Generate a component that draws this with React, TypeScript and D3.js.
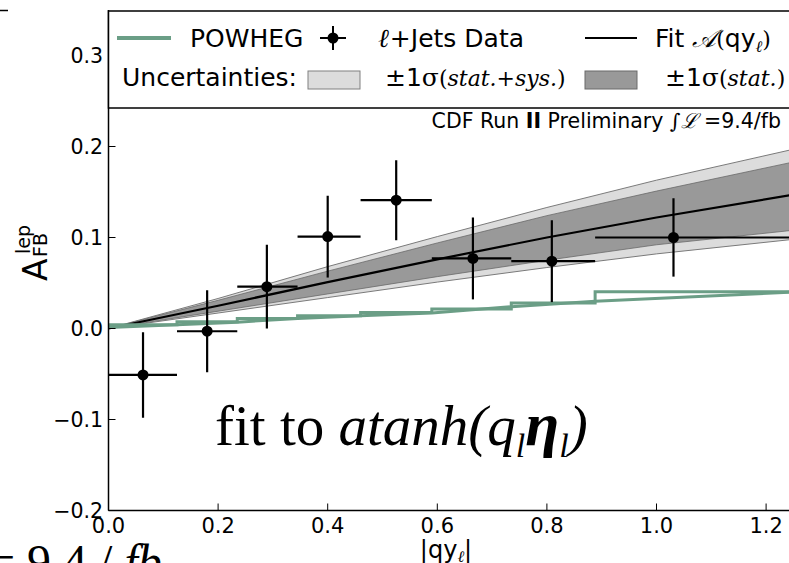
import React from "react";
import * as d3 from "d3";

// ---- data ----
const binLo = [0, 0.125, 0.235, 0.345, 0.46, 0.59, 0.735, 0.888];
const binHi = [0.125, 0.235, 0.345, 0.46, 0.59, 0.735, 0.888, 1.5];
const dataX = [0.063, 0.18, 0.289, 0.4, 0.525, 0.665, 0.809, 1.031];
const dataY = [-0.051, -0.003, 0.046, 0.101, 0.141, 0.077, 0.074, 0.1];
const dataErr = [0.047, 0.045, 0.046, 0.045, 0.044, 0.045, 0.045, 0.043];

const fitX = [0, 0.2, 0.4, 0.6, 0.8, 1.0, 1.25];
const fitY = [0, 0.025, 0.051, 0.076, 0.1, 0.122, 0.147];
const statLo = [0, 0.019, 0.038, 0.057, 0.075, 0.092, 0.108];
const statHi = [0, 0.031, 0.063, 0.094, 0.124, 0.151, 0.183];
const totLo = [0, 0.017, 0.034, 0.051, 0.067, 0.082, 0.098];
const totHi = [0, 0.033, 0.068, 0.101, 0.133, 0.163, 0.197];

const powStep = [0.004, 0.0075, 0.011, 0.014, 0.0175, 0.0215, 0.028, 0.0405];
const powLineX = [0, 0.125, 0.235, 0.345, 0.46, 0.59, 0.735, 0.888, 1.25];
const powLineY = [0.001, 0.004, 0.007, 0.011, 0.014, 0.017, 0.024, 0.03, 0.04];

const xTicks = [0, 0.2, 0.4, 0.6, 0.8, 1.0, 1.2];
const xTickLabels = ["0.0", "0.2", "0.4", "0.6", "0.8", "1.0", "1.2"];
const yTicks = [-0.2, -0.1, 0, 0.1, 0.2, 0.3];
const yTickLabels = ["\u22120.2", "\u22120.1", "0.0", "0.1", "0.2", "0.3"];

const GREEN = "#6b9e86";
const SANS = "DejaVu Sans";
const SERIF = "DejaVu Serif";

export default function App() {
  const W = 789, H = 563;
  const x = d3.scaleLinear().domain([0, 1.25]).range([108.5, 793.5]);
  const y = d3.scaleLinear().domain([-0.2, 0.35]).range([510.5, 10]);
  const L = 108.5, R = 793.5, T = 10, B = 510.5;

  const idx = fitX.map((_, i) => i);
  const area = (lo: number[], hi: number[]) =>
    d3.area<number>().x((i) => x(fitX[i])).y0((i) => y(lo[i])).y1((i) => y(hi[i]))(idx) || "";
  const edge = (v: number[]) => d3.line<number>().x((i) => x(fitX[i])).y((i) => y(v[i]))(idx) || "";
  const fitPath = edge(fitY);

  // POWHEG step histogram
  const stepPts: [number, number][] = [];
  binLo.forEach((lo, i) => {
    const hi = Math.min(binHi[i], 1.3);
    stepPts.push([x(lo), y(powStep[i])]);
    stepPts.push([x(hi), y(powStep[i])]);
  });
  const stepPath = d3.line()(stepPts) || "";
  const powLine =
    d3.line<number>().x((i) => x(powLineX[i])).y((i) => y(powLineY[i]))(powLineX.map((_, i) => i)) || "";

  return (
    <svg width={W} height={H} style={{ position: "absolute", left: 0, top: 0, background: "#fff" }}>
      <defs>
        <clipPath id="plot">
          <rect x={L} y={T} width={R - L} height={B - T} />
        </clipPath>
      </defs>
      <rect x={0} y={0} width={W} height={H} fill="#fff" />
      <line x1={0} x2={8} y1={10.5} y2={10.5} stroke="#000" strokeWidth={1.5} />

      <g clipPath="url(#plot)">
        <path d={area(totLo, totHi)} fill="#dcdcdc" stroke="#7a7a7a" strokeWidth={1} />
        <path d={area(statLo, statHi)} fill="#999999" stroke="#6a6a6a" strokeWidth={0.8} />
        <path d={fitPath} fill="none" stroke="#000" strokeWidth={2.2} />
        <path d={powLine} fill="none" stroke={GREEN} strokeWidth={3} />
        <path d={stepPath} fill="none" stroke={GREEN} strokeWidth={3} />
        {dataX.map((dx, i) => (
          <g key={i}>
            <line x1={x(binLo[i])} x2={x(binHi[i])} y1={y(dataY[i])} y2={y(dataY[i])} stroke="#000" strokeWidth={2.2} />
            <line x1={x(dx)} x2={x(dx)} y1={y(dataY[i] - dataErr[i])} y2={y(dataY[i] + dataErr[i])} stroke="#000" strokeWidth={2.2} />
            <circle cx={x(dx)} cy={y(dataY[i])} r={5.5} fill="#000" />
          </g>
        ))}
      </g>

      {/* axes */}
      <line x1={L} x2={L} y1={T} y2={B} stroke="#000" strokeWidth={1.5} />
      <line x1={L} x2={W} y1={B} y2={B} stroke="#000" strokeWidth={1.5} />
      {xTicks.map((t, i) => (
        <g key={"xt" + i}>
          <line x1={x(t)} x2={x(t)} y1={B} y2={B - 7} stroke="#000" strokeWidth={1} />
          <text x={x(t)} y={533} textAnchor="middle" fontFamily={SANS} fontSize={21}>{xTickLabels[i]}</text>
        </g>
      ))}
      {yTicks.map((t, i) => (
        <g key={"yt" + i}>
          <line x1={L} x2={L + 7} y1={y(t)} y2={y(t)} stroke="#000" strokeWidth={1} />
          <text x={103} y={y(t) + 7.5} textAnchor="end" fontFamily={SANS} fontSize={20.5}>{yTickLabels[i]}</text>
        </g>
      ))}

      {/* x label */}
      <text x={446} y={558} textAnchor="middle" fontFamily={SANS} fontSize={24}>
        |qy<tspan fontFamily={SERIF} fontStyle="italic" fontSize={16} dy={4}>ℓ</tspan><tspan dy={-4}>|</tspan>
      </text>

      {/* y label */}
      <g transform="translate(47,281) rotate(-90)" fontFamily={SANS}>
        <text x={0} y={0} fontSize={33}>A</text>
        <text x={24} y={0} fontSize={19}>FB</text>
        <text x={27} y={-17} fontSize={19}>lep</text>
      </g>

      {/* CDF text */}
      <text x={781} y={128} textAnchor="end" fontFamily={SANS} fontSize={20.5}>
        CDF Run <tspan fontWeight="bold">II</tspan> Preliminary <tspan fontFamily={SERIF} fontStyle="italic">∫ℒ</tspan> =9.4/fb
      </text>

      {/* annotation */}
      <text x={215} y={445} fontFamily="Liberation Serif" fontSize={57}>
        fit to <tspan fontStyle="italic">atanh(q</tspan><tspan fontStyle="italic" fontSize={34} dy={12}>l</tspan>
        <tspan fontStyle="italic" fontWeight="bold" fontSize={62} dy={-12}>η</tspan>
        <tspan fontStyle="italic" fontSize={34} dy={12}>l</tspan><tspan fontStyle="italic" dy={-12}>)</tspan>
      </text>

      {/* bottom-left cropped text */}
      <text x={-12} y={578} fontFamily="Liberation Serif" fontSize={48}>
        = 9.4 / <tspan fontStyle="italic">fb</tspan>
      </text>

      {/* legend */}
      <rect x={L} y={11} width={W} height={97} fill="#fff" stroke="#000" strokeWidth={1.5} />
      <line x1={117} x2={171} y1={38} y2={38} stroke={GREEN} strokeWidth={4} />
      <text x={190} y={47} fontFamily={SANS} fontSize={25}>POWHEG</text>
      <line x1={320} x2={346} y1={38} y2={38} stroke="#000" strokeWidth={2} />
      <line x1={333} x2={333} y1={26} y2={50} stroke="#000" strokeWidth={2} />
      <circle cx={333} cy={38} r={5.5} fill="#000" />
      <text x={378} y={47} fontFamily={SANS} fontSize={25}>
        <tspan fontFamily={SERIF} fontStyle="italic" fontSize={26}>ℓ</tspan><tspan dx={1}>+Jets Data</tspan>
      </text>
      <line x1={585} x2={637} y1={38} y2={38} stroke="#000" strokeWidth={2} />
      <text x={655} y={47} fontFamily={SANS} fontSize={25}>
        Fit <tspan fontFamily={SERIF} fontStyle="italic">𝒜</tspan><tspan fontFamily={SERIF} fontSize={22}>(</tspan>qy<tspan fontFamily={SERIF} fontStyle="italic" fontSize={16} dy={5}>ℓ</tspan><tspan fontFamily={SERIF} fontSize={22} dy={-5}>)</tspan>
      </text>

      <text x={122} y={86} fontFamily={SANS} fontSize={25}>Uncertainties:</text>
      <rect x={308} y={71} width={52} height={18} fill="#dcdcdc" stroke="#808080" strokeWidth={1} />
      <text x={385} y={86} fontFamily={SANS} fontSize={25}>
        ±1<tspan fontFamily={SERIF}>σ</tspan><tspan fontFamily={SERIF} fontSize={22}>(</tspan><tspan fontFamily={SERIF} fontStyle="italic" fontSize={22}>stat.+sys.</tspan><tspan fontFamily={SERIF} fontSize={22}>)</tspan>
      </text>
      <rect x={585} y={71} width={52} height={18} fill="#999999" stroke="#6a6a6a" strokeWidth={1} />
      <text x={665} y={86} fontFamily={SANS} fontSize={25}>
        ±1<tspan fontFamily={SERIF}>σ</tspan><tspan fontFamily={SERIF} fontSize={22}>(</tspan><tspan fontFamily={SERIF} fontStyle="italic" fontSize={22}>stat.</tspan><tspan fontFamily={SERIF} fontSize={22}>)</tspan>
      </text>
    </svg>
  );
}
